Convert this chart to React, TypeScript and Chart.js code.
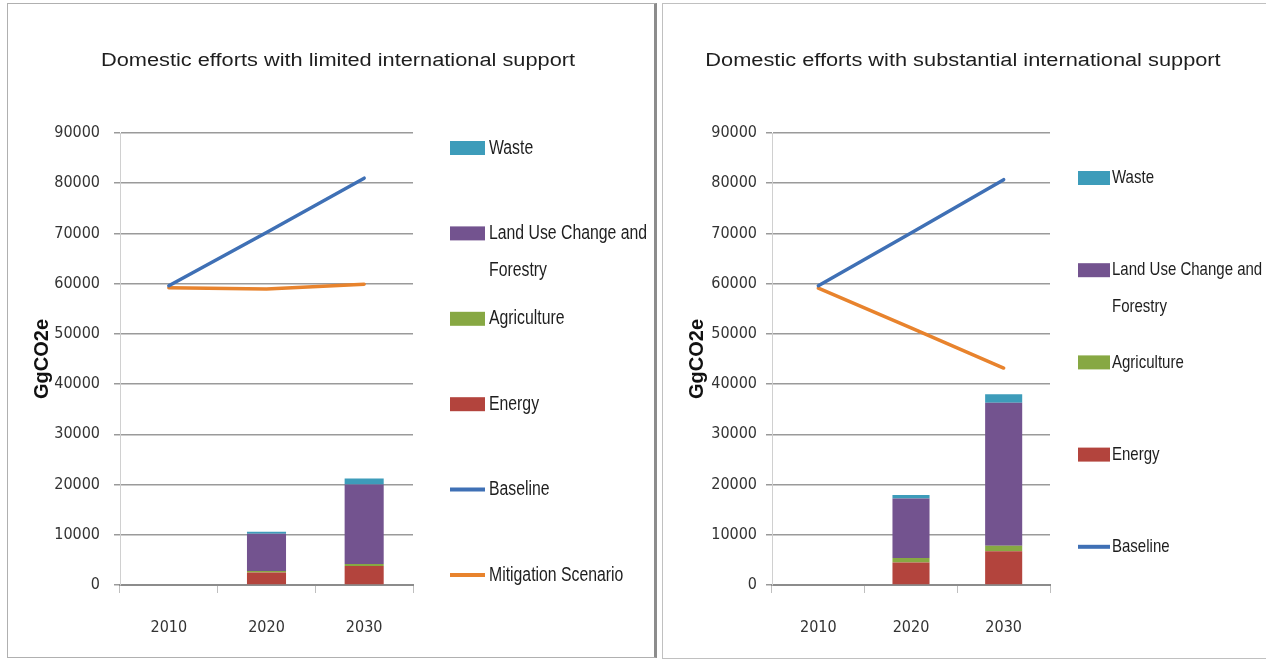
import React, { useEffect, useRef } from 'react';
import { Chart, registerables } from 'chart.js';

Chart.register(...registerables);

// ---------- data ----------
const CATEGORIES = ['2010', '2020', '2030'];

const LEFT_TITLE = 'Domestic efforts with limited international support';
const LEFT_ENERGY = [null, 2500, 3800];
const LEFT_AGRICULTURE = [null, 300, 400];
const LEFT_LUCF = [null, 7400, 15800];
const LEFT_WASTE = [null, 400, 1200];
const LEFT_BASELINE = [59600, 70200, 81000];
const LEFT_MITIGATION = [59200, 58950, 59900];

const RIGHT_TITLE = 'Domestic efforts with substantial international support';
const RIGHT_ENERGY = [null, 4500, 6700];
const RIGHT_AGRICULTURE = [null, 900, 1100];
const RIGHT_LUCF = [null, 11800, 28500];
const RIGHT_WASTE = [null, 700, 1700];
const RIGHT_BASELINE = [59600, 70100, 80700];
const RIGHT_MITIGATION = [59100, 51200, 43200];

const Y_MIN = 0;
const Y_MAX = 90000;
const Y_STEP = 10000;
const Y_TITLE = 'GgCO2e';

const LEFT_LEGEND = ['Waste', 'Land Use Change and Forestry', 'Agriculture', 'Energy', 'Baseline', 'Mitigation Scenario'];
const RIGHT_LEGEND = ['Waste', 'Land Use Change and Forestry', 'Agriculture', 'Energy', 'Baseline'];

// ---------- styles ----------
const C_WASTE = '#3d9cba';
const C_LUCF = '#73538f';
const C_AGRI = '#87a843';
const C_ENERGY = '#b3443d';
const C_BASE = '#3f70b5';
const C_MITI = '#e8832d';

const TICK_FONT = '"DejaVu Sans Condensed", "Liberation Sans", sans-serif';
const MAIN_FONT = '"Liberation Sans", Arial, sans-serif';

const decorPlugin = {
  id: 'panelDecor',
  afterDraw(chart: any, _args: any, opts: any) {
    const ctx = chart.ctx as CanvasRenderingContext2D;
    // title
    ctx.save();
    ctx.font = `${opts.titleSize}px ${MAIN_FONT}`;
    ctx.fillStyle = '#1e1e1e';
    ctx.textAlign = 'center';
    ctx.textBaseline = 'middle';
    ctx.translate(opts.titleX, opts.titleY);
    ctx.scale(opts.titleScale, 1);
    ctx.fillText(opts.title, 0, 0);
    ctx.restore();

    // legend
    const sx = opts.legendScale;
    ctx.save();
    ctx.font = `${opts.legendSize}px ${MAIN_FONT}`;
    ctx.textBaseline = 'middle';
    ctx.textAlign = 'left';
    (opts.legend as string[]).forEach((label, i) => {
      const ds = chart.data.datasets.find((d: any) => d.label === label);
      if (!ds) return;
      const y = opts.legendY0 + i * opts.legendStep;
      if (ds.type === 'line') {
        ctx.strokeStyle = ds.borderColor;
        ctx.lineWidth = 4;
        ctx.beginPath();
        ctx.moveTo(opts.swatchX, y);
        ctx.lineTo(opts.swatchX + opts.swatchW, y);
        ctx.stroke();
      } else {
        ctx.fillStyle = ds.backgroundColor;
        ctx.fillRect(opts.swatchX, y - 7, opts.swatchW, 14);
      }
      // wrap text
      const words = label.split(' ');
      const lines: string[] = [];
      let cur = '';
      words.forEach((w) => {
        const cand = cur ? cur + ' ' + w : w;
        if (ctx.measureText(cand).width * sx > opts.legendMaxW && cur) {
          lines.push(cur);
          cur = w;
        } else {
          cur = cand;
        }
      });
      if (cur) lines.push(cur);
      ctx.fillStyle = '#1e1e1e';
      lines.forEach((ln, j) => {
        ctx.save();
        ctx.translate(opts.textX, y + j * opts.legendLineH);
        ctx.scale(sx, 1);
        ctx.fillText(ln, 0, 0);
        ctx.restore();
      });
    });
    ctx.restore();
  },
};

type PanelCfg = {
  w: number;
  h: number;
  title: string;
  energy: (number | null)[];
  agri: (number | null)[];
  lucf: (number | null)[];
  waste: (number | null)[];
  baseline: number[];
  mitigation: number[];
  legend: string[];
  yWidth: number;
  yPad: number;
  padRight: number;
  titleX: number;
  legendY0: number;
  legendStep: number;
  swatchX: number;
  swatchW: number;
  textX: number;
  legendSize: number;
  legendMaxW: number;
};

function makeConfig(p: PanelCfg): any {
  const bar = (label: string, data: (number | null)[], color: string) => ({
    type: 'bar',
    label,
    data,
    backgroundColor: color,
    stack: 'sectors',
    order: 1,
    barPercentage: 0.4,
    categoryPercentage: 1,
  });
  const line = (label: string, data: number[], color: string, stack: string) => ({
    type: 'line',
    label,
    data,
    borderColor: color,
    backgroundColor: color,
    borderWidth: 3.5,
    borderCapStyle: 'round',
    pointRadius: 0,
    tension: 0,
    fill: false,
    stack,
    order: 0,
  });
  return {
    type: 'bar',
    data: {
      labels: CATEGORIES,
      datasets: [
        line('Baseline', p.baseline, C_BASE, 'baseline'),
        line('Mitigation Scenario', p.mitigation, C_MITI, 'mitigation'),
        bar('Energy', p.energy, C_ENERGY),
        bar('Agriculture', p.agri, C_AGRI),
        bar('Land Use Change and Forestry', p.lucf, C_LUCF),
        bar('Waste', p.waste, C_WASTE),
      ],
    },
    options: {
      responsive: false,
      animation: false,
      devicePixelRatio: 1,
      layout: { padding: { left: 0, right: p.padRight, top: 129, bottom: 12 } },
      plugins: {
        legend: { display: false },
        tooltip: { enabled: false },
        title: { display: false },
        panelDecor: {
          title: p.title,
          titleX: p.titleX,
          titleY: 57,
          titleSize: 18,
          titleScale: 1.21,
          legend: p.legend,
          legendY0: p.legendY0,
          legendStep: p.legendStep,
          legendLineH: 37,
          legendSize: p.legendSize,
          legendScale: 0.79,
          legendMaxW: p.legendMaxW,
          swatchX: p.swatchX,
          swatchW: p.swatchW,
          textX: p.textX,
        },
      },
      scales: {
        x: {
          stacked: true,
          offset: true,
          grid: {
            offset: true,
            drawOnChartArea: false,
            drawTicks: true,
            tickLength: 8,
            color: '#bfbfbf',
            lineWidth: 1,
          },
          border: { display: true, color: '#8c8c8c', width: 2 },
          ticks: { font: { family: TICK_FONT, size: 16 }, color: '#333333', padding: 25 },
          afterFit: (s: any) => {
            s.height = 60;
          },
        },
        y: {
          stacked: true,
          min: Y_MIN,
          max: Y_MAX,
          ticks: {
            stepSize: Y_STEP,
            callback: (v: any) => String(v),
            font: { family: TICK_FONT, size: 16 },
            color: '#333333',
            padding: p.yPad,
          },
          grid: { color: '#9a9a9a', lineWidth: 1.5, tickLength: 6, drawTicks: true },
          border: { display: true, color: '#d0d0d0', width: 1 },
          title: {
            display: true,
            text: Y_TITLE,
            color: '#111',
            font: { family: MAIN_FONT, size: 20, weight: 'bold' },
            padding: { top: 22, bottom: 0 },
          },
          afterFit: (s: any) => {
            s.width = p.yWidth;
          },
        },
      },
    },
    plugins: [decorPlugin],
  };
}

function Panel({ cfg }: { cfg: PanelCfg }) {
  const ref = useRef<HTMLCanvasElement>(null);
  useEffect(() => {
    const chart = new Chart(ref.current as HTMLCanvasElement, makeConfig(cfg));
    return () => chart.destroy();
  }, [cfg]);
  return (
    <canvas
      ref={ref}
      width={cfg.w}
      height={cfg.h}
      style={{ display: 'block', width: cfg.w, height: cfg.h }}
    />
  );
}

const LEFT_CFG: PanelCfg = {
  w: 646,
  h: 653,
  title: LEFT_TITLE,
  energy: LEFT_ENERGY,
  agri: LEFT_AGRICULTURE,
  lucf: LEFT_LUCF,
  waste: LEFT_WASTE,
  baseline: LEFT_BASELINE,
  mitigation: LEFT_MITIGATION,
  legend: LEFT_LEGEND,
  yWidth: 112,
  yPad: 14,
  padRight: 241,
  titleX: 330,
  legendY0: 144,
  legendStep: 85.4,
  swatchX: 442,
  swatchW: 35,
  textX: 481,
  legendSize: 20,
  legendMaxW: 162,
};

const RIGHT_CFG: PanelCfg = {
  w: 603,
  h: 653,
  title: RIGHT_TITLE,
  energy: RIGHT_ENERGY,
  agri: RIGHT_AGRICULTURE,
  lucf: RIGHT_LUCF,
  waste: RIGHT_WASTE,
  baseline: RIGHT_BASELINE,
  mitigation: RIGHT_MITIGATION,
  legend: RIGHT_LEGEND,
  yWidth: 109,
  yPad: 9,
  padRight: 216,
  titleX: 300,
  legendY0: 174,
  legendStep: 92.2,
  swatchX: 415,
  swatchW: 32,
  textX: 449,
  legendSize: 19,
  legendMaxW: 153,
};

export default function App() {
  return (
    <div
      style={{
        position: 'fixed',
        left: 0,
        top: 0,
        width: 1266,
        height: 660,
        background: '#fff',
        overflow: 'hidden',
      }}
    >
      <div
        style={{
          position: 'absolute',
          left: 7,
          top: 3,
          width: 650,
          height: 655,
          boxSizing: 'border-box',
          border: '1px solid #b0b0b0',
          borderRight: '3px solid #8c8c8c',
        }}
      >
        <Panel cfg={LEFT_CFG} />
      </div>
      <div
        style={{
          position: 'absolute',
          left: 662,
          top: 3,
          width: 700,
          height: 656,
          boxSizing: 'border-box',
          border: '1px solid #c0c0c0',
        }}
      >
        <Panel cfg={RIGHT_CFG} />
      </div>
    </div>
  );
}
